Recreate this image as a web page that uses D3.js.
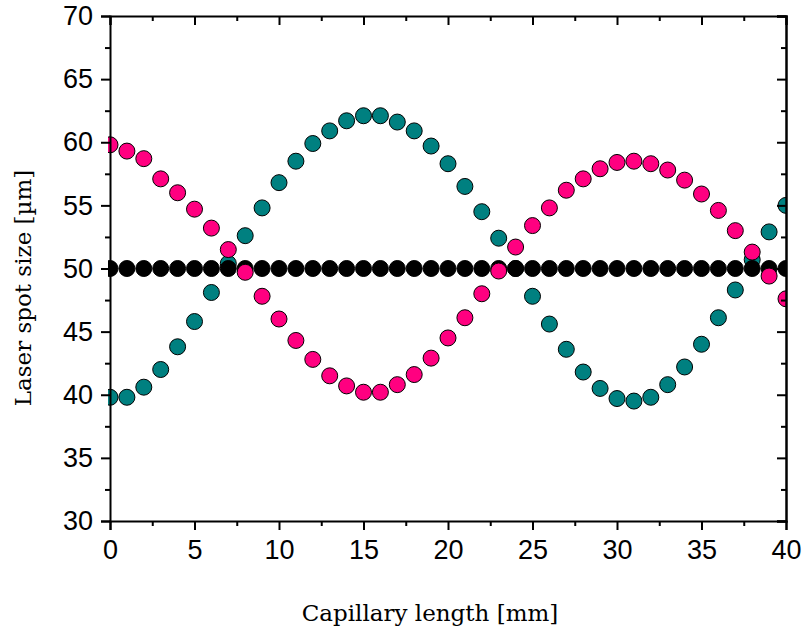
<!DOCTYPE html>
<html>
<head>
<meta charset="utf-8">
<script src="https://cdn.jsdelivr.net/npm/d3@7"></script>
<style>
  body { margin: 0; background: #fff; }
  .tick text { font-family: "Liberation Sans", Arial, sans-serif; font-size: 27px; fill: #000; }
  .axis-title { font-family: "DejaVu Serif", "Liberation Serif", serif; font-size: 23px; fill: #000; }
</style>
</head>
<body>
<svg width="804" height="634"></svg>
<script>
// capillary position in mm
const positions = d3.range(0, 41);

// laser spot size in µm
const tealSeries = [39.8, 39.8, 40.6, 42.0, 43.8, 45.8, 48.1, 50.4, 52.6, 54.8,
  56.8, 58.5, 59.9, 60.9, 61.7, 62.1, 62.1, 61.6, 60.9, 59.7,
  58.3, 56.5, 54.5, 52.4, 50.0, 47.8, 45.6, 43.6, 41.8, 40.5,
  39.7, 39.5, 39.8, 40.8, 42.2, 44.0, 46.1, 48.3, 50.7, 52.9, 55.0];
const pinkSeries = [59.8, 59.3, 58.7, 57.1, 56.0, 54.7, 53.2, 51.5, 49.7, 47.8,
  46.0, 44.3, 42.8, 41.5, 40.7, 40.2, 40.2, 40.8, 41.6, 42.9,
  44.5, 46.1, 48.0, 49.8, 51.7, 53.4, 54.8, 56.2, 57.1, 57.9,
  58.4, 58.5, 58.3, 57.8, 57.0, 55.9, 54.6, 53.0, 51.3, 49.4, 47.6];
const blackSeries = positions.map(() => 50);

const xTicks = [0, 5, 10, 15, 20, 25, 30, 35, 40];
const yTicks = [30, 35, 40, 45, 50, 55, 60, 65, 70];

const svg = d3.select('svg');
const plotLeft = 110, plotRight = 786, plotTop = 16, plotBottom = 521;

const x = d3.scaleLinear().domain([0, 40]).range([plotLeft, plotRight]);
const y = d3.scaleLinear().domain([30, 70]).range([plotBottom, plotTop]);

// clip the dots to the plot frame
svg.append('clipPath').attr('id', 'plot')
  .append('rect')
  .attr('x', plotLeft - 2).attr('y', plotTop)
  .attr('width', plotRight - plotLeft + 2).attr('height', plotBottom - plotTop);

const dots = svg.append('g').attr('clip-path', 'url(#plot)');

// draw order: teal, black, pink (pink sits on top of the black row)
const layers = [
  { values: tealSeries, fill: '#008080' },
  { values: blackSeries, fill: '#000000' },
  { values: pinkSeries, fill: '#FF0080' }
];

layers.forEach(layer => {
  dots.selectAll(null)
    .data(positions)
    .enter()
    .append('circle')
    .attr('cx', d => x(d))
    .attr('cy', (d, i) => y(layer.values[i]))
    .attr('r', 8)
    .attr('fill', layer.fill)
    .attr('stroke', '#000')
    .attr('stroke-width', 1);
});

const minorX = d3.range(2.5, 40, 5);
const minorY = d3.range(32.5, 70, 5);

// bottom axis
svg.append('g')
  .attr('transform', `translate(0,${plotBottom})`)
  .call(d3.axisBottom(x).tickValues(xTicks).tickSize(9).tickPadding(10).tickFormat(d3.format('d')))
  .call(g => g.select('.domain').attr('stroke-width', 2))
  .call(g => g.selectAll('.tick line').attr('stroke-width', 2));
svg.append('g')
  .attr('transform', `translate(0,${plotBottom})`)
  .call(d3.axisBottom(x).tickValues(minorX).tickSize(5).tickFormat(''))
  .call(g => g.select('.domain').remove())
  .call(g => g.selectAll('.tick line').attr('stroke-width', 2));

// top axis, ticks pointing in
svg.append('g')
  .attr('transform', `translate(0,${plotTop})`)
  .call(d3.axisBottom(x).tickValues(xTicks).tickSize(9).tickFormat(''))
  .call(g => g.select('.domain').attr('stroke-width', 2))
  .call(g => g.selectAll('.tick line').attr('stroke-width', 2));
svg.append('g')
  .attr('transform', `translate(0,${plotTop})`)
  .call(d3.axisBottom(x).tickValues(minorX).tickSize(5).tickFormat(''))
  .call(g => g.select('.domain').remove())
  .call(g => g.selectAll('.tick line').attr('stroke-width', 2));

// left axis
svg.append('g')
  .attr('transform', `translate(${plotLeft},0)`)
  .call(d3.axisLeft(y).tickValues(yTicks).tickSize(9).tickPadding(8).tickFormat(d3.format('d')))
  .call(g => g.select('.domain').attr('stroke-width', 2))
  .call(g => g.selectAll('.tick line').attr('stroke-width', 2));
svg.append('g')
  .attr('transform', `translate(${plotLeft},0)`)
  .call(d3.axisLeft(y).tickValues(minorY).tickSize(5).tickFormat(''))
  .call(g => g.select('.domain').remove())
  .call(g => g.selectAll('.tick line').attr('stroke-width', 2));

// right axis, ticks pointing in
svg.append('g')
  .attr('transform', `translate(${plotRight},0)`)
  .call(d3.axisLeft(y).tickValues(yTicks).tickSize(9).tickFormat(''))
  .call(g => g.select('.domain').attr('stroke-width', 2.5))
  .call(g => g.selectAll('.tick line').attr('stroke-width', 2));
svg.append('g')
  .attr('transform', `translate(${plotRight},0)`)
  .call(d3.axisLeft(y).tickValues(minorY).tickSize(5).tickFormat(''))
  .call(g => g.select('.domain').remove())
  .call(g => g.selectAll('.tick line').attr('stroke-width', 2));

svg.selectAll('.domain').attr('stroke', '#000');
svg.selectAll('.tick line').attr('stroke', '#000');

// axis titles
svg.append('text')
  .attr('class', 'axis-title')
  .attr('x', 430)
  .attr('y', 621)
  .attr('text-anchor', 'middle')
  .text('Capillary length [mm]');

svg.append('text')
  .attr('class', 'axis-title')
  .attr('transform', 'translate(31,288) rotate(-90)')
  .attr('text-anchor', 'middle')
  .text('Laser spot size [µm]');
</script>
</body>
</html>
